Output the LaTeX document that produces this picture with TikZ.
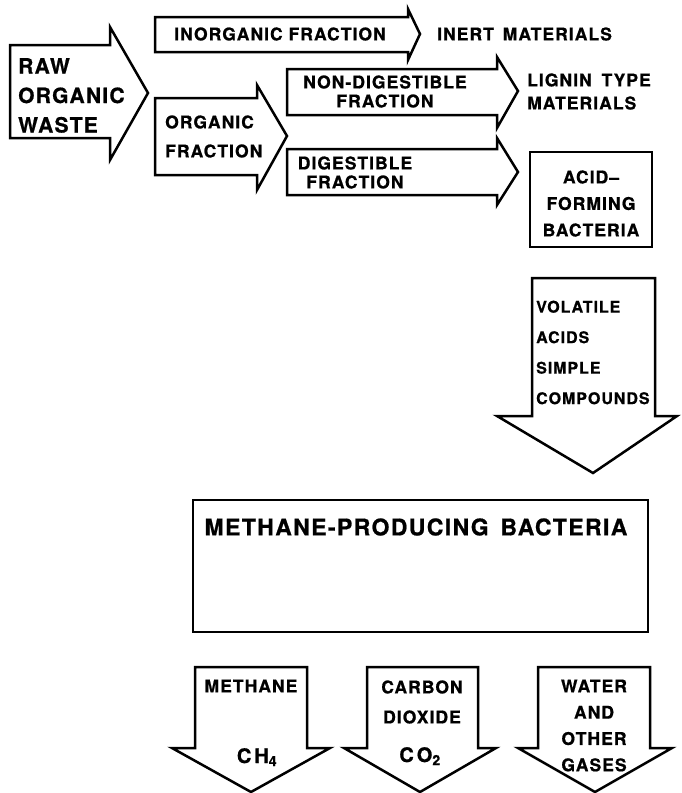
\documentclass[tikz,border=0pt]{standalone}
\usepackage{fontspec}
\newfontfamily\lettering[LetterSpace=6,FakeBold=0.8]{TeX Gyre Heros}
\begin{document}
\begin{tikzpicture}[x=1pt,y=-1pt,
  blk/.style={draw=black, line width=2.5pt, line join=miter, fill=white},
  lbl/.style={font=\lettering\bfseries\fontsize{17.5}{21}\selectfont, inner sep=0pt},
  ls/.style={lbl, font=\lettering\bfseries\fontsize{17.5}{#1}\selectfont},
  big/.style={font=\lettering\bfseries\fontsize{21}{29.5}\selectfont, inner sep=0pt},
  huge/.style={font=\lettering\bfseries\fontsize{23}{27}\selectfont, inner sep=0pt},
  chem/.style={font=\lettering\bfseries\fontsize{20}{24}\selectfont, inner sep=0pt, anchor=base},
]
\useasboundingbox (0,0) rectangle (681,793);

% raw waste
\draw[blk] (10,45) -- (110,45) -- (110,27) -- (148,93) -- (110,160) -- (110,138) -- (10,138) -- cycle;
\node[big, anchor=west, align=left] (raw) at (18,95.5) {RAW\\ORGANIC\\WASTE};

% inorganic fraction
\draw[blk] (155,17) -- (408,17) -- (408,9) -- (420,34) -- (408,60) -- (408,52) -- (155,52) -- cycle;
\node[lbl] (inorg) at (280,34) {INORGANIC FRACTION};
\node[lbl, anchor=west] (inert) at (437,34) {INERT\hspace{3pt} MATERIALS};

% organic fraction
\draw[blk] (155,98) -- (257,98) -- (257,85) -- (287,136) -- (257,190) -- (257,175) -- (155,175) -- cycle;
\node[ls=29, anchor=west, align=left] (org) at (165,136.5) {ORGANIC\\FRACTION};

% non-digestible fraction
\draw[blk] (287,69) -- (497,69) -- (497,57) -- (518,91) -- (497,128) -- (497,115) -- (287,115) -- cycle;
\node[ls=19, align=center] (nondig) at (385,91.5) {NON-DIGESTIBLE\\FRACTION};
\node[ls=23, anchor=west, align=left] (lignin) at (527,91.5) {LIGNIN\hspace{4pt} TYPE\\MATERIALS};

% digestible fraction
\draw[blk] (287,149) -- (497,149) -- (497,138) -- (518,172) -- (497,205) -- (497,195) -- (287,195) -- cycle;
\node[ls=19, align=center] (dig) at (355,172.5) {DIGESTIBLE\\FRACTION};

% acid-forming bacteria
\draw[blk] (530,152) rectangle (652,247);
\node[ls=26.5, align=center] (acid) at (591,203.5) {ACID–\\FORMING\\BACTERIA};

% volatile acids
\draw[blk] (532,278) -- (655,278) -- (655,416) -- (677,416) -- (593,473) -- (497,416) -- (532,416) -- cycle;
\node[lbl, font=\lettering\bfseries\fontsize{16}{30.5}\selectfont, anchor=west, align=left] (vol) at (536,352.5) {VOLATILE\\ACIDS\\SIMPLE\\COMPOUNDS};

% methane-producing bacteria
\draw[blk] (193,500) rectangle (648,632);
\node[huge] (mpb) at (416,527) {METHANE-PRODUCING\hspace{4pt} BACTERIA};

% products
\draw[blk] (195,667) -- (307,667) -- (307,748) -- (330,748) -- (251,792) -- (172,748) -- (195,748) -- cycle;
\draw[blk] (367,667) -- (478,667) -- (478,748) -- (496,748) -- (420,792) -- (344,748) -- (367,748) -- cycle;
\draw[blk] (538,667) -- (650,667) -- (650,748) -- (672,748) -- (595,792) -- (518,748) -- (538,748) -- cycle;

\node[lbl] (meth) at (251,686) {METHANE};
\node[chem] (ch4) at (257,763) {C\kern3pt H\textsubscript{4}};
\node[ls=30, align=center] (carb) at (422,702) {CARBON\\DIOXIDE};
\node[chem] (co2) at (420,762) {C\kern3pt O\textsubscript{2}};
\node[ls=26.3, align=center] (water) at (594,725.5) {WATER\\AND\\OTHER\\GASES};
\end{tikzpicture}
\end{document}
